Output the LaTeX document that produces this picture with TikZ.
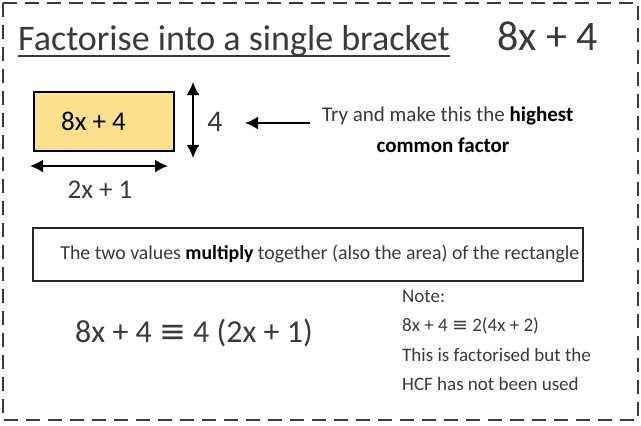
\documentclass[tikz,border=0pt]{standalone}
\usepackage{fontspec}
\setmainfont{Carlito}
\newfontfamily\symfont{DejaVu Sans}
\usetikzlibrary{arrows.meta,positioning}
\definecolor{inkcolor}{HTML}{3A3A3A}
\definecolor{rectfill}{HTML}{FCE08C}
\tikzset{
  hcf border/.style={draw=inkcolor,line width=2pt,dash pattern=on 14pt off 8pt},
  hcf rect/.style={draw=black,line width=1.8pt,fill=rectfill,minimum width=140pt,minimum height=59pt,inner sep=0pt},
  hcf box/.style={draw=black!85,line width=1.6pt,minimum width=550pt,minimum height=53pt,inner sep=0pt},
  hcf arrow/.style={black,line width=1.8pt,-{Latex[length=13pt,width=13pt]}},
  hcf double/.style={black,line width=1.8pt,{Latex[length=13pt,width=13pt]}-{Latex[length=13pt,width=13pt]}},
  hcf text/.style={text=inkcolor,inner sep=0pt}
}
\newcommand{\fsz}[1]{\fontsize{#1}{1.2\dimexpr#1pt\relax}\selectfont}
\newcommand{\eqv}{{\symfont ≡}}

\begin{document}
\begin{tikzpicture}[x=1pt,y=-1pt]
  \useasboundingbox (0,0) rectangle (641,426);
  \draw[hcf border] (3,3) rectangle (638,420);
  % heading
  \node[hcf text,anchor=base west,font=\fsz{36}] (title) at (18,50) {Factorise into a single bracket};
  \draw[inkcolor,line width=2pt] ([yshift=-6pt]title.base west) -- ([yshift=-6pt]title.base east);
  \node[hcf text,anchor=base west,font=\fsz{42}] (expr) at (497,50) {8x + 4};
  % rectangle and its sides
  \node[hcf rect,anchor=north west] (rect) at (33,91) {};
  \node[inner sep=0pt,anchor=west,font=\fsz{27}] (rectlabel) at ([xshift=28pt]rect.west) {8x + 4};
  \coordinate (vtop) at (193,82);
  \coordinate (vbot) at (193,158);
  \draw[hcf double] (vtop) -- (vbot);
  \node[hcf text,font=\fsz{30}] (four) at (215,122) {4};
  \coordinate (hleft) at (30,166);
  \coordinate (hright) at (168,166);
  \draw[hcf double] (hleft) -- (hright);
  \node[hcf text,font=\fsz{27}] (width) at (100,190) {2x + 1};
  % hint
  \node[hcf text,anchor=west,font=\fsz{21}] (try) at (322,116) {Try and make this the \textcolor{black}{\textbf{highest}}};
  \node[inner sep=0pt,font=\fsz{21}\bfseries] (common) at (443,145) {common factor};
  \coordinate (ptrstart) at (310,123);
  \coordinate (ptrend) at (245,123);
  \draw[hcf arrow] (ptrstart) -- (ptrend);
  % area statement
  \node[hcf box,anchor=north west] (valuebox) at (32,227) {};
  \node[hcf text,font=\fsz{19.8}] (valuetext) at ([xshift=12pt]valuebox.center) {The two values \textcolor{black}{\textbf{multiply}} together (also the area) of the rectangle};
  % result
  \node[hcf text,anchor=west,font=\fsz{32}] (ident) at (75,333) {8x + 4 \eqv{} 4 (2x + 1)};
  \node[hcf text,anchor=north west,align=left,font=\fontsize{19}{29.5}\selectfont] (note) at (402,290)
    {Note:\\8x + 4 \eqv{} 2(4x + 2)\\This is factorised but the\\HCF has not been used};
\end{tikzpicture}
\end{document}
